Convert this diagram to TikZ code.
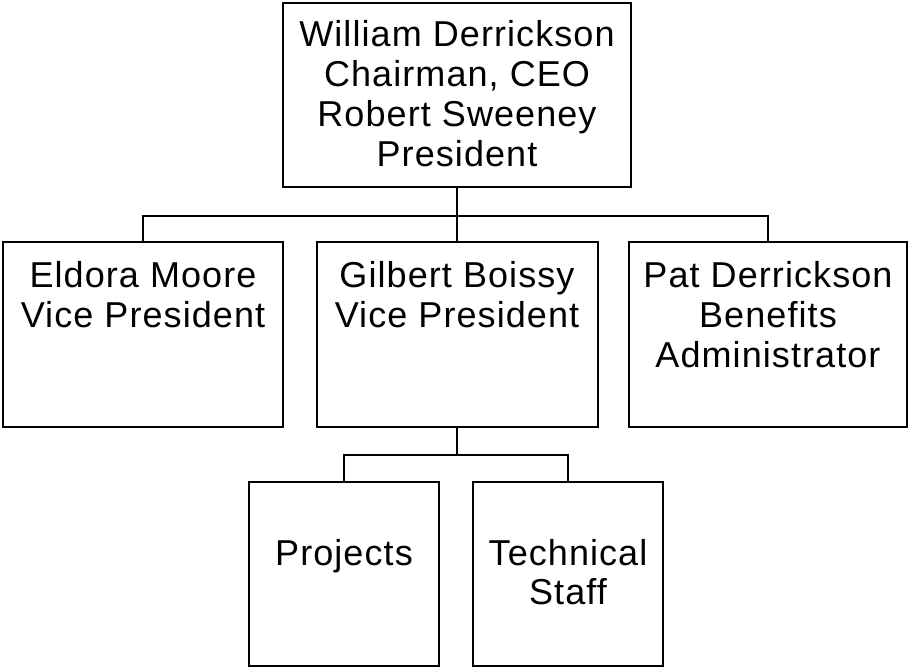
\documentclass[tikz,border=0pt]{standalone}
\usepackage{fontspec}
\setmainfont[LetterSpace=3.0]{Liberation Sans}
\begin{document}
\begin{tikzpicture}[x=1pt,y=-1pt,
  box/.style={draw=black, line width=2pt, rectangle, inner sep=0pt},
  txt/.style={anchor=base, align=center, inner sep=0pt, font=\fontsize{36}{39.7}\selectfont},
  conn/.style={draw=black, line width=2pt}]
\useasboundingbox (0,0) rectangle (909,667);
% boxes
\node[box, minimum width=348, minimum height=184] (ceo) at (457,95) {};
\node[box, minimum width=280, minimum height=185] (eldora) at (143,334.5) {};
\node[box, minimum width=281, minimum height=185] (gilbert) at (457,334.5) {};
\node[box, minimum width=278, minimum height=185] (pat) at (768,334.5) {};
\node[box, minimum width=190, minimum height=184] (proj) at (344,574) {};
\node[box, minimum width=190, minimum height=184] (tech) at (568,574) {};
% texts (anchored at the baseline of their last line)
\node[txt] (tceo) at (457,166) {William Derrickson\\Chairman, CEO\\Robert Sweeney\\President};
\node[txt] (teldora) at (143,327) {Eldora Moore\\Vice President};
\node[txt] (tgilbert) at (457,327) {Gilbert Boissy\\Vice President};
\node[txt, font=\fontsize{36}{40}\selectfont] (tpat) at (768,367) {Pat Derrickson\\Benefits\\Administrator};
\node[txt] (tproj) at (344,565) {Projects};
\node[txt, font=\fontsize{36}{39}\selectfont] (ttech) at (568,604) {Technical\\Staff};
% connectors
\draw[conn] (ceo.south) -- ++(0,28) coordinate (bus1);
\draw[conn] (eldora.north) |- (bus1) -| (pat.north);
\draw[conn] (bus1) -- (gilbert.north);
\draw[conn] (gilbert.south) -- ++(0,27) coordinate (bus2);
\draw[conn] (proj.north) |- (bus2) -| (tech.north);
\end{tikzpicture}
\end{document}
